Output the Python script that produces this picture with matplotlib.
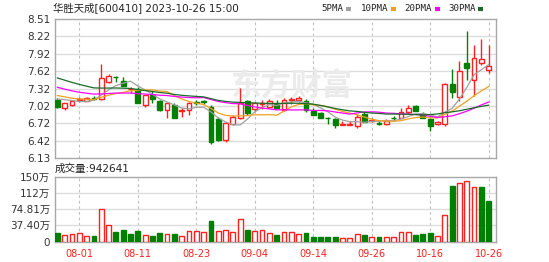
import matplotlib
matplotlib.use("Agg")
import matplotlib.pyplot as plt
from matplotlib.lines import Line2D
import numpy as np
import pandas as pd

TITLE = "华胜天成[600410] 2023-10-26 15:00"

dates = ["07-27", "07-28", "07-31", "08-01", "08-02", "08-03", "08-04", "08-07",
         "08-08", "08-09", "08-10", "08-11", "08-14", "08-15", "08-16", "08-17",
         "08-18", "08-21", "08-22", "08-23", "08-24", "08-25", "08-28", "08-29",
         "08-30", "08-31", "09-01", "09-04", "09-05", "09-06", "09-07", "09-08",
         "09-11", "09-12", "09-13", "09-14", "09-15", "09-18", "09-19", "09-20",
         "09-21", "09-22", "09-25", "09-26", "09-27", "09-28", "10-09", "10-10",
         "10-11", "10-12", "10-13", "10-16", "10-17", "10-18", "10-19", "10-20",
         "10-23", "10-24", "10-25", "10-26"]

opens = [7.13, 6.99, 7.04, 7.12, 7.11, 7.16, 7.14, 7.43, 7.52, 7.44,
         7.31, 7.31, 7.04, 7.21, 7.10, 6.96, 7.04, 6.94, 6.96, 7.09,
         7.10, 7.01, 6.80, 6.43, 6.72, 6.82, 7.10, 6.97, 7.06, 7.00,
         7.06, 6.96, 7.12, 7.13, 7.10, 6.93, 6.90, 6.82, 6.79, 6.70,
         6.70, 6.68, 6.89, 6.77, 6.73, 6.71, 6.82, 6.82, 6.91, 7.02,
         6.89, 6.79, 6.72, 6.72, 7.40, 7.18, 7.76, 7.47, 7.76, 7.63]
highs = [7.16, 7.08, 7.12, 7.17, 7.17, 7.19, 7.74, 7.56, 7.53, 7.52,
         7.34, 7.34, 7.21, 7.27, 7.12, 7.08, 7.08, 6.99, 7.09, 7.13,
         7.13, 7.04, 6.84, 6.74, 6.87, 7.33, 7.13, 7.09, 7.13, 7.14,
         7.13, 7.15, 7.18, 7.19, 7.14, 6.99, 6.92, 6.84, 6.82, 6.76,
         6.76, 6.88, 6.91, 6.82, 6.76, 6.79, 6.85, 6.98, 7.04, 7.04,
         6.91, 6.82, 6.77, 7.41, 7.65, 7.79, 8.30, 8.07, 8.17, 8.07]
lows = [6.99, 6.96, 7.02, 7.09, 7.10, 7.13, 7.13, 7.42, 7.43, 7.36,
        7.25, 7.07, 7.00, 7.07, 6.94, 6.82, 6.82, 6.83, 6.87, 7.04,
        7.05, 6.37, 6.42, 6.41, 6.70, 6.79, 6.87, 6.93, 6.97, 6.98,
        6.98, 6.94, 7.06, 7.09, 6.91, 6.86, 6.81, 6.72, 6.64, 6.70,
        6.69, 6.65, 6.74, 6.74, 6.69, 6.69, 6.76, 6.81, 6.89, 6.93,
        6.81, 6.59, 6.69, 6.68, 7.16, 7.11, 7.47, 7.19, 7.73, 7.59]
closes = [7.00, 7.07, 7.10, 7.14, 7.16, 7.14, 7.50, 7.54, 7.51, 7.36,
          7.32, 7.08, 7.21, 7.14, 6.95, 7.07, 6.82, 6.95, 7.07, 7.08,
          7.09, 6.40, 6.44, 6.73, 6.84, 7.07, 6.90, 7.07, 7.08, 7.10,
          6.99, 7.13, 7.14, 7.15, 6.96, 6.87, 6.82, 6.81, 6.69, 6.71,
          6.72, 6.83, 6.75, 6.78, 6.72, 6.77, 6.81, 6.91, 6.99, 6.94,
          6.82, 6.68, 6.74, 7.40, 7.26, 7.62, 7.67, 7.84, 7.82, 7.70]
# volume in 万
volumes = [19.4, 15.5, 17.0, 19.4, 13.0, 12.4, 76.0, 39.0, 21.7, 25.6,
           17.0, 23.3, 14.8, 13.2, 19.4, 17.0, 17.0, 13.2, 23.3, 23.3,
           21.7, 46.6, 23.3, 25.6, 21.7, 52.0, 25.6, 23.3, 25.6, 19.4,
           14.8, 21.7, 21.7, 17.9, 19.4, 10.0, 10.0, 10.0, 10.0, 7.8,
           7.8, 17.0, 14.8, 10.0, 10.0, 10.0, 10.0, 22.5, 21.7, 14.8,
           17.0, 19.4, 13.2, 61.0, 129.0, 135.0, 141.0, 126.0, 126.0, 94.2641]

# closes before 07-27, only used to start the moving averages
prev_closes = [8.20, 8.25, 8.15, 8.10, 8.00, 7.60, 7.52, 7.48, 7.45, 7.45,
               7.70, 7.68, 7.62, 7.48, 7.45, 7.42, 7.40, 7.38, 7.35, 7.32,
               7.30, 7.34, 7.26, 7.22, 7.18, 7.12, 7.18, 7.22, 7.18]

ma_periods = [5, 10, 20, 30]
ma_colors = ["#a0a0a0", "#f0a020", "#ff00ff", "#1a6b2a"]

price_labels = ["6.13", "6.42", "6.72", "7.02", "7.32", "7.62", "7.92", "8.22", "8.51"]
vol_labels = ["0", "37.40万", "74.81万", "112万", "150万"]
vol_top = 149.62

RED = "#ff2020"
GREEN = "#008000"
GRID = "#dcdcdc"
FRAME = "#a8a8a8"

W, H = 549, 262


def fx(px):
    return px / W


def fy(py):
    return 1 - py / H


def style_axes(ax):
    for s in ax.spines.values():
        s.set_color(FRAME)
        s.set_linewidth(1)
    ax.tick_params(length=0, labelsize=7.5, colors="#333333", pad=3.5)
    ax.set_xlim(-0.33, 60.0)
    for i in range(3, len(dates), 8):
        ax.axvline(i, color="#c0c0c0", lw=0.8, ls=(0, (2.5, 2.5)), zorder=0)


def main():
    plt.rcParams["font.family"] = ["DejaVu Sans", "Noto Sans CJK SC"]
    fig = plt.figure(figsize=(W / 100, H / 100), dpi=100)

    o = np.array(opens)
    h = np.array(highs)
    l = np.array(lows)
    c = np.array(closes)
    x = np.arange(len(dates))

    # price panel
    ax = fig.add_axes([fx(55), fy(158), fx(496) - fx(55), fy(19) - fy(158)])
    style_axes(ax)
    lo, hi = float(price_labels[0]), float(price_labels[-1])
    ax.set_ylim(lo, hi)
    yt = np.linspace(lo, hi, len(price_labels))
    ax.set_yticks(yt)
    ax.set_yticklabels(price_labels)
    for v in yt[1:-1]:
        ax.axhline(v, color=GRID, lw=1, zorder=0)
    ax.set_xticks([])

    ax.text(0.535, 0.52, "东方财富", transform=ax.transAxes, ha="center", va="center",
            fontsize=22, fontweight="bold", family="Noto Sans CJK SC",
            color="#ebebeb", style="italic", zorder=0)

    up = c >= o
    cols = np.where(up, RED, GREEN)
    face = np.where(up, "white", GREEN)
    ax.vlines(x, l, h, colors=cols, lw=1, zorder=2)
    body_lo = np.minimum(o, c)
    body_h = np.maximum(np.abs(c - o), 0.006)
    ax.bar(x, body_h, bottom=body_lo, width=0.66, color=face, edgecolor=cols,
           lw=1, zorder=3)

    s = pd.Series(prev_closes + closes)
    for n, col in zip(ma_periods, ma_colors):
        ma = s.rolling(n).mean().iloc[len(prev_closes):].values
        ax.plot(x, ma, color=col, lw=0.9, zorder=4)

    # volume panel
    axv = fig.add_axes([fx(55), fy(241.5), fx(496) - fx(55), fy(177) - fy(241.5)])
    style_axes(axv)
    axv.set_ylim(0, vol_top)
    vt = np.linspace(0, vol_top, len(vol_labels))
    axv.set_yticks(vt)
    axv.set_yticklabels(vol_labels)
    for v in vt[1:-1]:
        axv.axhline(v, color=GRID, lw=1, zorder=0)
    prev = np.concatenate([[prev_closes[-1]], c[:-1]])
    vup = c >= prev
    vcols = np.where(vup, RED, GREEN)
    vface = np.where(vup, "white", GREEN)
    axv.bar(x, volumes, width=0.66, color=vface, edgecolor=vcols, lw=1, zorder=3)
    ticks = list(range(3, len(dates), 8))
    axv.set_xticks(ticks)
    axv.set_xticklabels([dates[i] for i in ticks])
    axv.tick_params(axis="x", colors=RED, labelsize=7, pad=5.5)
    axv.tick_params(axis="y", pad=3.5)

    fig.text(fx(53), fy(8.5), TITLE, fontsize=7.5, color="#222222", va="center")
    fig.text(fx(55), fy(168.5), "成交量:%d" % round(volumes[-1] * 10000),
             fontsize=7.6, color="#222222", va="center")

    # legend row
    leg_x = [321.5, 361, 404.5, 448]
    for px, n, col in zip(leg_x, ma_periods, ma_colors):
        fig.text(fx(px), fy(8.5), "%dPMA" % n, fontsize=6.6,
                 family="DejaVu Sans Mono", color="#222222", va="center")
        dx = 24 if n < 10 else 30
        fig.add_artist(Line2D([fx(px + dx), fx(px + dx + 5)], [fy(8.5), fy(8.5)],
                              color=col, lw=3, solid_capstyle="butt"))

    fig.savefig("out.png", dpi=100)


if __name__ == '__main__':
    main()
